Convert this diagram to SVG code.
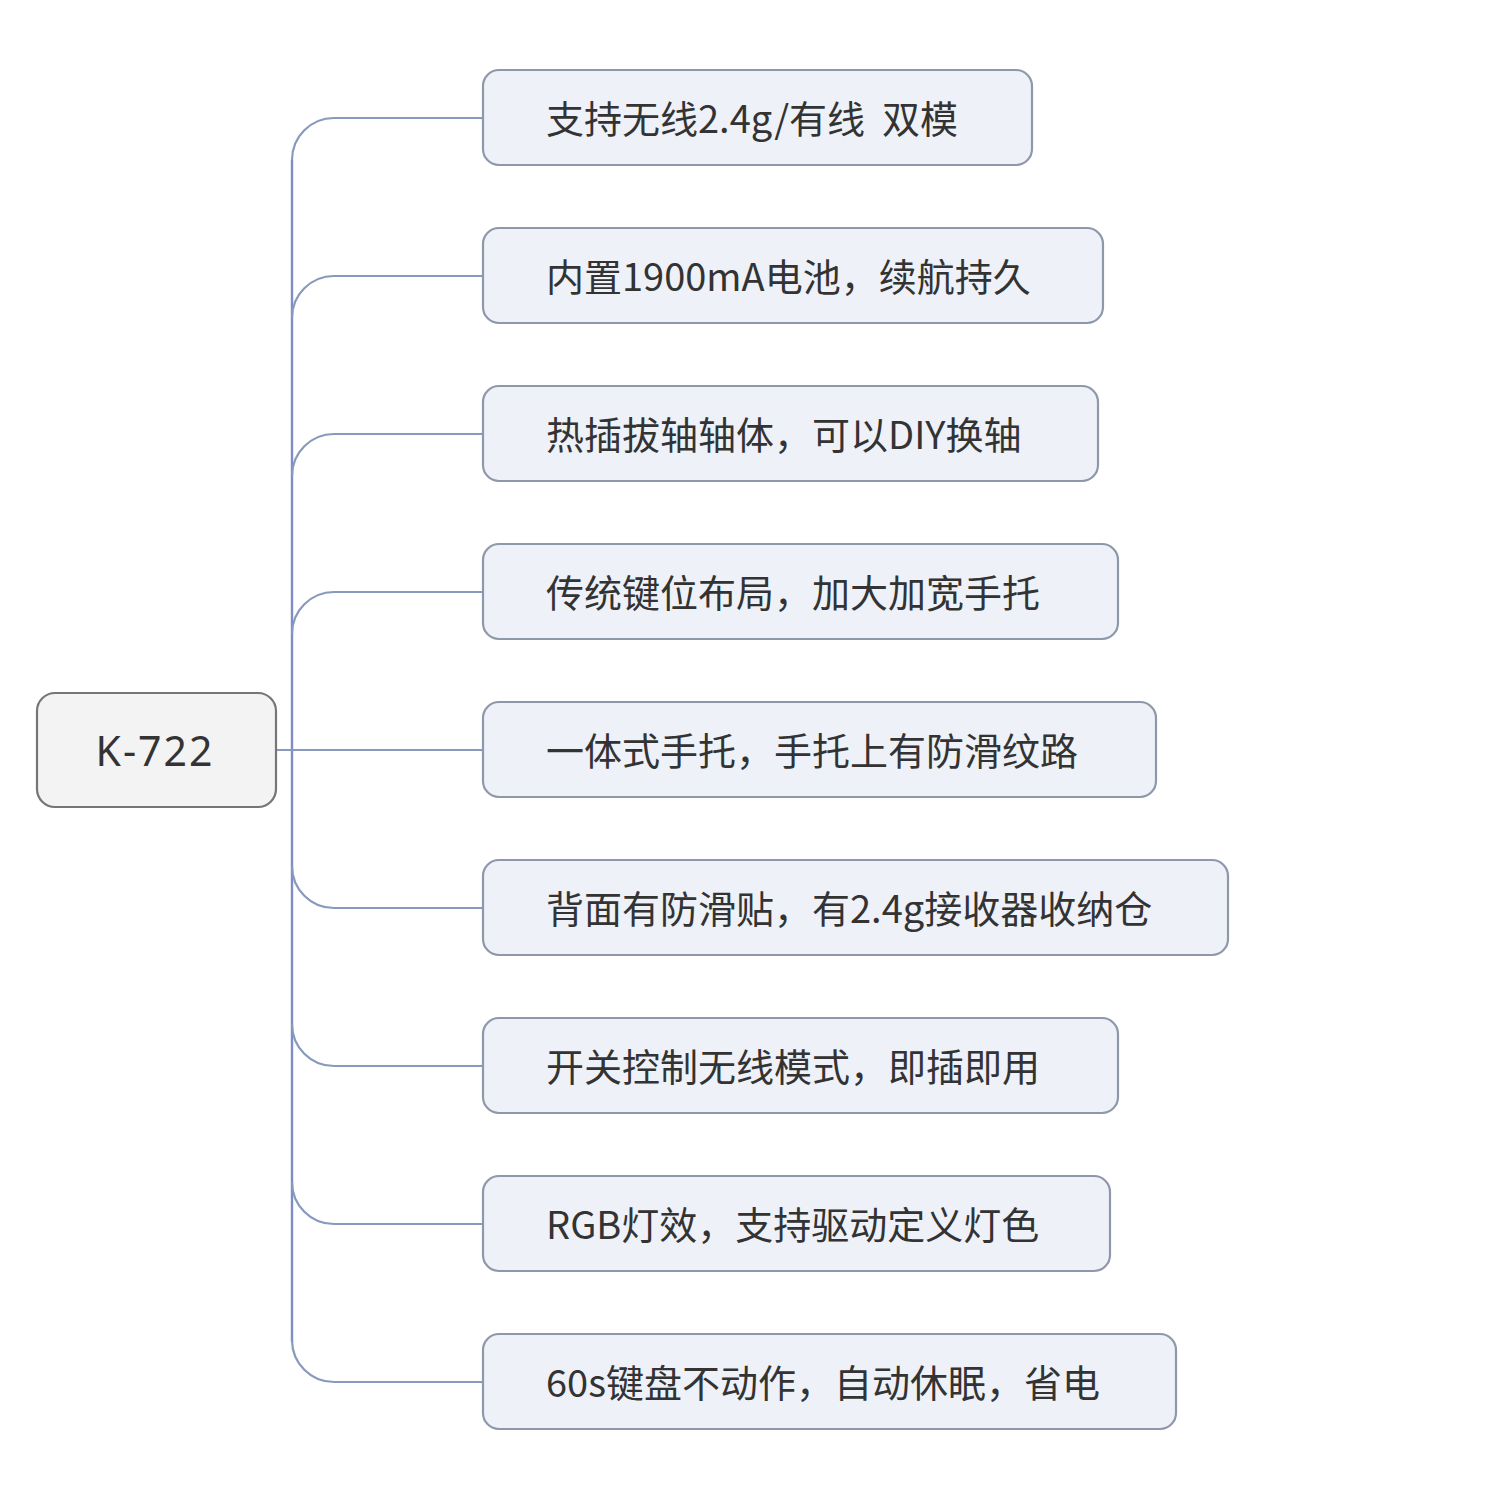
<svg xmlns="http://www.w3.org/2000/svg" width="1500" height="1500" viewBox="0 0 1500 1500">
<style>
.bg{fill:#ffffff}
.conn{fill:none;stroke:#8799bd;stroke-width:2.2}
.trunk{fill:none;stroke:#7f8cc6;stroke-width:2.4}
.box{fill:#eef1f8;stroke:#8f98aa;stroke-width:2.2}
.root{fill:#f3f3f3;stroke:#767676;stroke-width:2.2}
.t{font-family:"Noto Sans CJK SC","Noto Sans",sans-serif;font-size:38px;fill:#333333;white-space:pre}
.rt{font-family:"Noto Sans","Noto Sans CJK SC",sans-serif;font-size:41px;fill:#333333;letter-spacing:2px}
</style>
<rect class="bg" x="0" y="0" width="1500" height="1500"/>
<g id="connectors">
<line class="trunk" x1="292" y1="160" x2="292" y2="1342"/>
<path class="conn" d="M292,160 A42,42 0 0 1 334,118 L483,118"/>
<path class="conn" d="M292,318 A42,42 0 0 1 334,276 L483,276"/>
<path class="conn" d="M292,476 A42,42 0 0 1 334,434 L483,434"/>
<path class="conn" d="M292,634 A42,42 0 0 1 334,592 L483,592"/>
<path class="conn" d="M276,750 L483,750"/>
<path class="conn" d="M292,866 A42,42 0 0 0 334,908 L483,908"/>
<path class="conn" d="M292,1024 A42,42 0 0 0 334,1066 L483,1066"/>
<path class="conn" d="M292,1182 A42,42 0 0 0 334,1224 L483,1224"/>
<path class="conn" d="M292,1340 A42,42 0 0 0 334,1382 L483,1382"/>
</g>
<g id="root">
<rect class="root" x="37" y="693" width="239" height="114" rx="18"/>
<text class="rt" x="155" y="766" text-anchor="middle">K-722</text>
</g>
<g id="n1">
<rect class="box" x="483" y="70" width="549" height="95" rx="16"/>
<text class="t" x="546" y="133" xml:space="preserve">支持无线2.4g/有线  双模</text>
</g>
<g id="n2">
<rect class="box" x="483" y="228" width="620" height="95" rx="16"/>
<text class="t" x="546" y="291">内置1900mA电池，续航持久</text>
</g>
<g id="n3">
<rect class="box" x="483" y="386" width="615" height="95" rx="16"/>
<text class="t" x="546" y="449">热插拔轴轴体，可以DIY换轴</text>
</g>
<g id="n4">
<rect class="box" x="483" y="544" width="635" height="95" rx="16"/>
<text class="t" x="546" y="607">传统键位布局，加大加宽手托</text>
</g>
<g id="n5">
<rect class="box" x="483" y="702" width="673" height="95" rx="16"/>
<text class="t" x="546" y="765">一体式手托，手托上有防滑纹路</text>
</g>
<g id="n6">
<rect class="box" x="483" y="860" width="745" height="95" rx="16"/>
<text class="t" x="546" y="923">背面有防滑贴，有2.4g接收器收纳仓</text>
</g>
<g id="n7">
<rect class="box" x="483" y="1018" width="635" height="95" rx="16"/>
<text class="t" x="546" y="1081">开关控制无线模式，即插即用</text>
</g>
<g id="n8">
<rect class="box" x="483" y="1176" width="627" height="95" rx="16"/>
<text class="t" x="546" y="1239">RGB灯效，支持驱动定义灯色</text>
</g>
<g id="n9">
<rect class="box" x="483" y="1334" width="693" height="95" rx="16"/>
<text class="t" x="546" y="1397">60s键盘不动作，自动休眠，省电</text>
</g>
</svg>
